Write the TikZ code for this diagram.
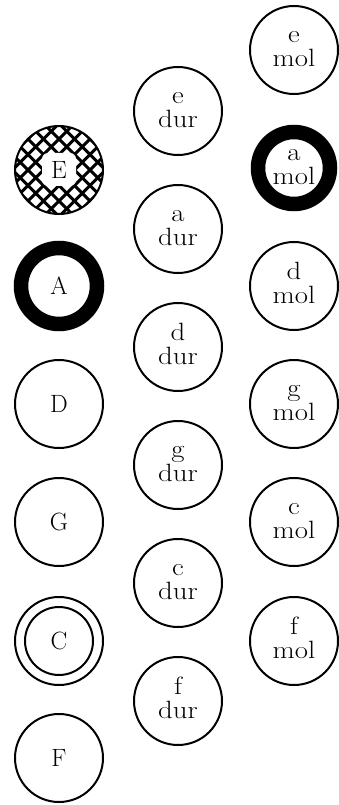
\documentclass[tikz,border=0pt]{standalone}
\usepackage{fontspec}
\usetikzlibrary{calc}
\newcommand{\twol}[2]{\scalebox{1.15}[1]{\begin{tabular}{@{}c@{}}#1\\#2\end{tabular}}}
\tikzset{
  disc/.style={circle, draw, line width=2pt, minimum size=88pt, inner sep=0pt,
    font=\fontsize{25}{21}\selectfont},
  ring/.style={disc, line width=14.5pt, minimum size=76pt},
  hatchline/.style={line width=3pt},
}
\begin{document}
\begin{tikzpicture}[x=1pt,y=-1pt]
\useasboundingbox (0,0) rectangle (339,805);
% left column
\coordinate (Ec) at (59,170);
\begin{scope}
  \clip (Ec) circle (44);
  \foreach \d in {-124,-108.5,...,124} {
    \draw[hatchline] ($(Ec)+(\d,0)+(-60,-60)$) -- ($(Ec)+(\d,0)+(60,60)$);
    \draw[hatchline] ($(Ec)+(\d,0)+(-60,60)$) -- ($(Ec)+(\d,0)+(60,-60)$);
  }
  \fill[white, rounded corners=6pt] ($(Ec)+(-17,-17)$) rectangle ($(Ec)+(17,16)$);
\end{scope}
\node[disc] (E) at (Ec) {E};
\node[ring] (A) at (59,286) {A};
\node[disc] (D) at (59,404) {D};
\node[disc] (G) at (59,522) {G};
\node[disc] (C) at (59,641) {C};
\draw[line width=2pt] (C.center) circle (34);
\node[disc] (F) at (59,758) {F};
% middle column
\node[disc] (edur) at (178,111) {\twol{e}{dur}};
\node[disc] (adur) at (178,229) {\twol{a}{dur}};
\node[disc] (ddur) at (178,347) {\twol{d}{dur}};
\node[disc] (gdur) at (178,465) {\twol{g}{dur}};
\node[disc] (cdur) at (178,583) {\twol{c}{dur}};
\node[disc] (fdur) at (178,701) {\twol{f}{dur}};
% right column
\node[disc] (emol) at (294,50) {\twol{e}{mol}};
\node[ring, minimum size=72pt] (amol) at (294,168) {\twol{a}{mol}};
\node[disc] (dmol) at (294,286) {\twol{d}{mol}};
\node[disc] (gmol) at (294,404) {\twol{g}{mol}};
\node[disc] (cmol) at (294,522) {\twol{c}{mol}};
\node[disc] (fmol) at (294,641) {\twol{f}{mol}};
\end{tikzpicture}
\end{document}
